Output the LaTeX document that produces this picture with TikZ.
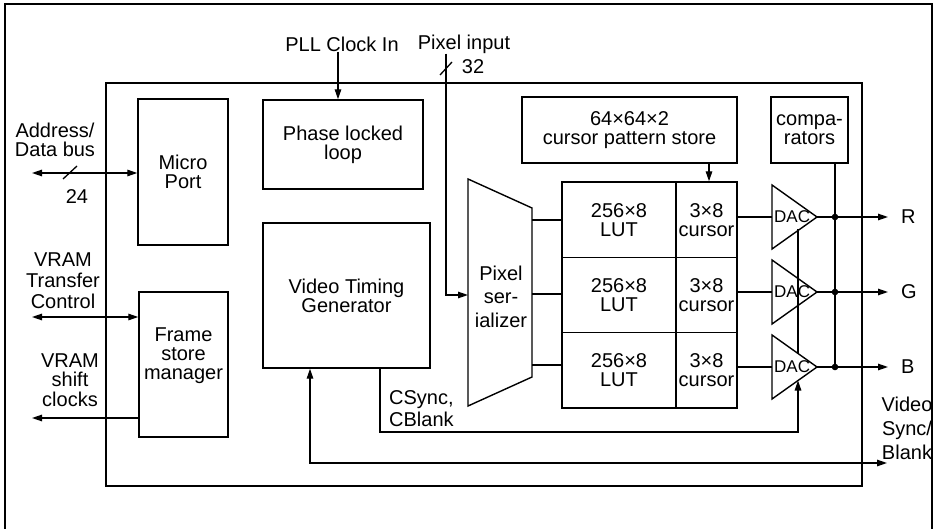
\documentclass[tikz,border=0pt]{standalone}
\usepackage{fontspec}
\setmainfont{Liberation Sans}
\usetikzlibrary{arrows.meta}
\begin{document}
\begin{tikzpicture}[x=1pt,y=-1pt,
  every node/.style={font=\fontsize{20}{19}\selectfont, align=center, inner sep=0pt},
  ln/.style={line width=1.3pt},
  box/.style={draw, line width=1.4pt},
  arr/.style={ln, -{Triangle[length=10pt,width=6.5pt]}},
  arrb/.style={ln, {Triangle[length=10pt,width=6.5pt]}-{Triangle[length=10pt,width=6.5pt]}},
  dacl/.style={font=\fontsize{17}{17}\selectfont, anchor=west}
]
\useasboundingbox (0,0) rectangle (939,529);
% outer frame
\draw[line width=1.2pt] (5,529) -- (5,4) -- (932,4) -- (932,529);
% chip
\node[box, minimum width=756, minimum height=403] (chip) at (484,284.5) {};
% blocks
\node[box, minimum width=90, minimum height=146] (micro) at (183,172) {Micro\\Port};
\node[box, minimum width=160, minimum height=89] (pll) at (343,144.5) {Phase locked\\loop};
\node[box, minimum width=167, minimum height=145] (vtg) at (346.5,295.5) {Video Timing\\Generator};
\node[box, minimum width=89, minimum height=145] (fsm) at (183.5,364.5) {};
\node (fsmtxt) at (183.5,356) {Frame\\store\\manager};
\node[box, minimum width=215, minimum height=66] (cps) at (629.5,130) {64×64×2\\cursor pattern store};
\node[box, minimum width=77, minimum height=66] (comp) at (809.5,130) {compa-\\rators};
% LUT grid
\foreach \n/\y in {1/219.67, 2/295, 3/370.33} {
  \node[box, minimum width=114, minimum height=75.33] (lut\n) at (619,\y) {256×8\\LUT};
  \node[box, minimum width=61, minimum height=75.33] (cur\n) at (706.5,\y) {3×8\\cursor};
}
% pixel serializer
\draw[box] (468,179) -- (532,208) -- (532,377) -- (468,406) -- cycle;
\node[font=\fontsize{20}{23.5}\selectfont] (ser) at (501,296.5) {Pixel\\ser-\\ializer};
\coordinate (serW) at (468,295);
\foreach \n/\y in {1/220, 2/294, 3/365} {
  \coordinate (s\n) at (532,\y);
  \draw[ln] (s\n) -- (s\n -| lut\n.west);
}
% DACs and outputs
\foreach \n/\c/\y in {1/R/217, 2/G/292, 3/B/367} {
  \coordinate (dac\c) at (772,\y);
  \coordinate (tip\c) at (817,\y);
  \coordinate (dot\c) at (835,\y);
  \draw[box] (772,{\y-32}) -- (tip\c) -- (772,{\y+32}) -- cycle;
  \node[dacl] (dl\c) at (774,\y) {DAC};
  \draw[ln] (cur\n.east |- dac\c) -- (dac\c);
  \node[anchor=west] (out\c) at (901,\y) {\c};
  \draw[arr] (tip\c) -- ([xshift=-13pt]out\c.west);
  \fill (dot\c) circle (3.3);
}
% comparators line
\draw[ln] (comp.south -| dotR) -- (dotB);
% cursor pattern store arrow
\coordinate (cpa) at (709,0);
\draw[arr] (cps.south -| cpa) -- (cur1.north -| cpa);
% sync line through DACs
\coordinate (dsA) at (798,229.5);
\coordinate (dsB) at (798,352.5);
\draw[ln] (dsA) -- (dsB);
% CSync / CBlank
\coordinate (csA) at (380,432);
\coordinate (csB) at (798,432);
\coordinate (dacBlow) at (798,380.5);
\draw[arr] (vtg.south -| csA) -- (csA) -- (csB) -- (dacBlow);
\node[font=\fontsize{20}{22}\selectfont, anchor=west, align=left] (cstxt) at (389,409) {CSync,\\CBlank};
% Video sync / blank
\coordinate (vsA) at (310,463);
\coordinate (vsB) at (887,463);
\draw[arrb] (vtg.south -| vsA) -- (vsA) -- (vsB);
\node[font=\fontsize{20}{24}\selectfont] (vstxt) at (907,428) {Video\\Sync/\\Blank};
% PLL clock in
\node (pllin) at (342,44) {PLL Clock In};
\coordinate (pllc) at (338,0);
\draw[arr] (pllin.south -| pllc) -- (pll.north -| pllc);
% Pixel input
\node (pixin) at (464,44) {Pixel input};
\coordinate (pxA) at (446,295);
\draw[arr] (pixin.south -| pxA) -- (pxA) -- (serW);
\draw[ln] (440,75) -- (452,62);
\node (n32) at (473,67) {32};
% Address / data bus
\node[font=\fontsize{20}{19.5}\selectfont] (adtxt) at (55,140) {Address/\\Data bus};
\coordinate (adr) at (32,173);
\draw[arrb] (adr) -- (adr -| micro.west);
\draw[ln] (63,179) -- (77,166);
\node (n24) at (77,197) {24};
% VRAM transfer control
\node[font=\fontsize{20}{21}\selectfont] (vttxt) at (63,281) {VRAM\\Transfer\\Control};
\coordinate (vt) at (32,317);
\draw[arrb] (vt) -- (vt -| fsm.west);
% VRAM shift clocks
\node[font=\fontsize{20}{19.5}\selectfont] (vctxt) at (70,380) {VRAM\\shift\\clocks};
\coordinate (vc) at (32,418);
\draw[arr] (vc -| fsm.west) -- (vc);
\end{tikzpicture}
\end{document}
